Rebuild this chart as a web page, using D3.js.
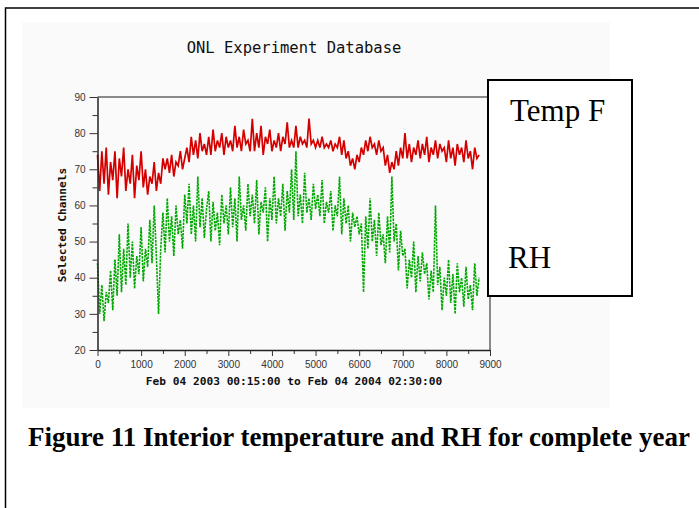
<!DOCTYPE html>
<html>
<head>
<meta charset="utf-8">
<script src="https://cdn.jsdelivr.net/npm/d3@7"></script>
<style>
  body { margin: 0; background: #fff; }
  svg { display: block; }
</style>
</head>
<body>
<div id="chart"></div>
<script>
// hourly samples, one value every 50 hours (0 .. 8750)
const hourStep = 50;

const tempF = [
  74,64,75,66,76,63,72,67,75,62,73,68,76,64,70,66,74,62,71,67,75,65,70,63,68,66,72,64,69,66,73,
  70,73,69,74,68,72,71,75,70,73,
  76,72,79,74,78,73,80,75,77,74,
  79,74,81,75,78,76,80,74,79,76,
  78,75,82,76,79,75,81,77,78,75,
  84,75,80,76,82,74,79,77,81,75,
  78,76,80,75,79,77,83,76,78,76,
  82,76,79,77,78,76,84,77,78,76,
  78,76,79,76,77,76,78,75,77,76,
  79,74,78,73,75,71,73,70,74,72,
  76,74,78,75,79,76,77,74,78,75,
  76,71,74,69,72,70,75,71,76,73,
  80,73,77,72,76,74,78,73,77,74,
  79,72,76,74,78,73,77,75,76,72,
  78,73,76,71,77,74,76,72,78,73,
  75,70,76,73,74
];

const relHum = [
  44,30,38,28,36,33,42,31,45,35,52,36,48,38,55,40,50,37,46,41,54,39,48,43,56,44,60,46,30,48,58,
  47,62,50,57,46,60,52,56,48,63,
  55,66,52,60,50,68,54,62,51,59,
  64,50,61,53,58,49,63,55,60,52,
  65,54,62,50,68,56,60,53,66,57,
  63,55,67,52,61,58,65,50,62,56,
  68,55,62,57,66,53,64,58,70,56,
  75,57,63,55,69,58,62,56,66,59,
  63,57,67,55,61,58,64,53,60,57,
  68,52,62,55,60,50,58,54,57,52,
  55,36,57,48,62,50,56,46,58,49,
  52,44,57,47,68,50,55,42,53,46,
  48,37,45,40,50,36,46,39,47,41,
  44,34,42,36,60,38,43,31,40,35,
  45,33,41,30,44,36,40,32,43,34,
  38,31,44,35,40
];

const yMajor = [20, 30, 40, 50, 60, 70, 80, 90];
const yMinor = [25, 35, 45, 55, 65, 75, 85];
const xMajor = [0, 1000, 2000, 3000, 4000, 5000, 6000, 7000, 8000, 9000];
const xMinor = [500, 1500, 2500, 3500, 4500, 5500, 6500, 7500, 8500];

const chartTitle = "ONL Experiment Database";
const xLabel = "Feb 04 2003 00:15:00 to Feb 04 2004 02:30:00";
const yLabel = "Selected Channels";
const legendLabels = ["Temp F", "RH"];
const caption = "Figure 11 Interior temperature and RH for complete year";

const W = 699, H = 508;
const plot = { left: 97.5, right: 490, top: 97, bottom: 350 };

const svg = d3.select("#chart").append("svg")
  .attr("width", W)
  .attr("height", H);

// document frame
svg.append("path")
  .attr("d", "M5.5,508 L5.5,8 L699,8")
  .attr("fill", "none")
  .attr("stroke", "#000")
  .attr("stroke-width", 1.5);

// embedded chart image background
svg.append("rect")
  .attr("x", 22).attr("y", 22)
  .attr("width", 588).attr("height", 386)
  .attr("fill", "#fafafa");

const x = d3.scaleLinear().domain([0, 9000]).range([plot.left, plot.right]);
const y = d3.scaleLinear().domain([20, 90]).range([plot.bottom, plot.top]);

// title
svg.append("text")
  .attr("x", 294).attr("y", 53)
  .attr("text-anchor", "middle")
  .style("font-family", "DejaVu Sans Mono")
  .style("font-size", "15.5px")
  .attr("fill", "#111")
  .text(chartTitle);

// plot frame (top/right)
svg.append("path")
  .attr("d", `M${plot.left},${plot.top} L${plot.right},${plot.top} L${plot.right},${plot.bottom}`)
  .attr("fill", "none")
  .attr("stroke", "#666")
  .attr("stroke-width", 1.5);

// series
const line = d3.line()
  .x((d, i) => x(i * hourStep))
  .y(d => y(d));

svg.append("path")
  .datum(relHum)
  .attr("d", line)
  .attr("fill", "none")
  .attr("stroke", "#00a800")
  .attr("stroke-width", 1.6)
  .attr("stroke-dasharray", "2.5,1");

svg.append("path")
  .datum(tempF)
  .attr("d", line)
  .attr("fill", "none")
  .attr("stroke", "#d40000")
  .attr("stroke-width", 1.7);

// axes
function styleAxis(g) {
  g.select(".domain").attr("stroke", "#222").attr("stroke-width", 1.5);
  g.selectAll(".tick line").attr("stroke", "#333");
  g.selectAll(".tick text")
    .attr("fill", "#333")
    .style("font-family", "Liberation Sans, Arial, sans-serif")
    .style("font-size", "10px");
}

svg.append("g")
  .attr("transform", `translate(${plot.left},0)`)
  .call(d3.axisLeft(y).tickValues(yMinor).tickSize(5).tickFormat(""))
  .call(g => g.select(".domain").remove())
  .call(g => g.selectAll(".tick line").attr("stroke", "#333"));

svg.append("g")
  .attr("transform", `translate(${plot.left},0)`)
  .call(d3.axisLeft(y).tickValues(yMajor).tickSize(8).tickSizeOuter(0).tickPadding(4))
  .call(styleAxis);

svg.append("g")
  .attr("transform", `translate(0,${plot.bottom})`)
  .call(d3.axisBottom(x).tickValues(xMinor).tickSize(4).tickFormat(""))
  .call(g => g.select(".domain").remove())
  .call(g => g.selectAll(".tick line").attr("stroke", "#333"));

svg.append("g")
  .attr("transform", `translate(0,${plot.bottom})`)
  .call(d3.axisBottom(x).tickValues(xMajor).tickSize(6).tickSizeOuter(0).tickPadding(5)
    .tickFormat(d3.format("d")))
  .call(styleAxis);

// axis labels
svg.append("text")
  .attr("x", 294).attr("y", 385)
  .attr("text-anchor", "middle")
  .style("font-family", "DejaVu Sans Mono")
  .style("font-weight", "bold")
  .style("font-size", "11.2px")
  .attr("fill", "#111")
  .text(xLabel);

svg.append("text")
  .attr("transform", "translate(66,225) rotate(-90)")
  .attr("text-anchor", "middle")
  .style("font-family", "DejaVu Sans Mono")
  .style("font-weight", "bold")
  .style("font-size", "11.2px")
  .attr("fill", "#111")
  .text(yLabel);

// legend box
svg.append("rect")
  .attr("x", 488).attr("y", 80)
  .attr("width", 144).attr("height", 216)
  .attr("fill", "#fff")
  .attr("stroke", "#000")
  .attr("stroke-width", 2);

svg.selectAll(".legend")
  .data(legendLabels)
  .enter()
  .append("text")
  .attr("class", "legend")
  .attr("x", (d, i) => i === 0 ? 510 : 508)
  .attr("y", (d, i) => i === 0 ? 121 : 268)
  .style("font-family", "Liberation Serif, Times New Roman, serif")
  .style("font-size", "31px")
  .attr("fill", "#000")
  .text(d => d);

// caption, fitted to its width in the page
const cap = svg.append("text")
  .attr("x", 28).attr("y", 446)
  .style("font-family", "Liberation Serif, Times New Roman, serif")
  .style("font-weight", "bold")
  .style("font-size", "21px")
  .attr("fill", "#000")
  .text(caption);
const capLen = cap.node().getComputedTextLength();
cap.style("font-size", (21 * 662 / capLen).toFixed(2) + "px");
</script>
</body>
</html>
